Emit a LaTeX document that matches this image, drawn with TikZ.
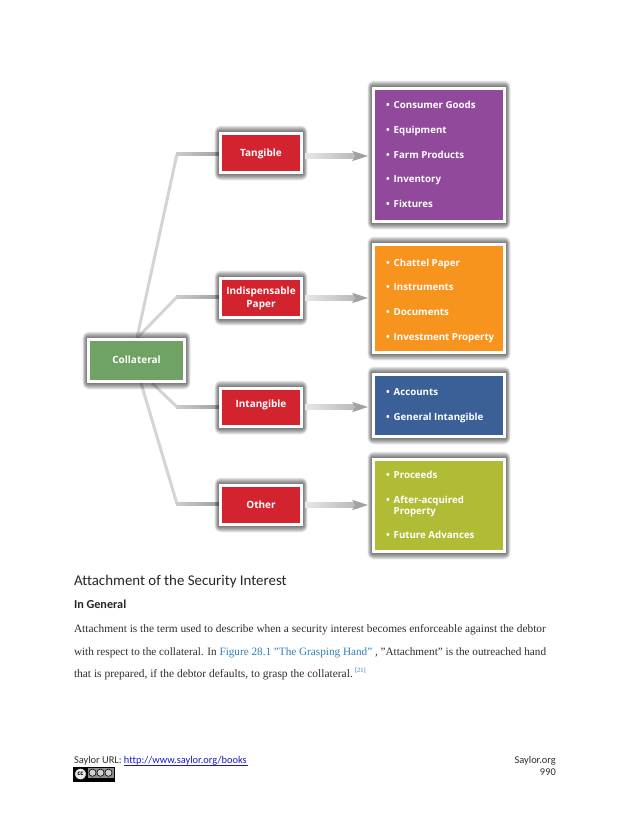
\documentclass[tikz,border=0pt]{standalone}
\usepackage{fontspec}
\setmainfont{Liberation Serif}
\newfontfamily\labfont{Open Sans}[BoldFont={Open Sans Bold}]
\newfontfamily\carl{Carlito}[Ligatures=NoCommon]
\usetikzlibrary{calc,arrows.meta}
\definecolor{redb}{HTML}{D2232E}
\definecolor{greenb}{HTML}{6FA264}
\definecolor{purpleb}{HTML}{91499C}
\definecolor{orangeb}{HTML}{F7941E}
\definecolor{blueb}{HTML}{3B6098}
\definecolor{oliveb}{HTML}{B0BC35}
\definecolor{linkblue}{HTML}{2F80B8}
\definecolor{urlblue}{HTML}{1A1ACC}
\definecolor{bodyink}{HTML}{2E2E2E}
\tikzset{
  x=1pt,y=-1pt,
  boxnode/.style={draw=white,line width=2.6pt,inner sep=0pt,outer sep=1.3pt,
    align=center,text=white,font=\labfont\bfseries\fontsize{10}{13}\selectfont},
  branch/.style={line width=3pt,draw=black!17,line join=miter},
  shaft/.style={line width=4.6pt,draw=black!27},
  tiphead/.style={fill=black!37,draw=none},
  txt/.style={anchor=base west,inner sep=0pt,outer sep=0pt,text=bodyink},
  itemtxt/.style={anchor=base west,inner sep=0pt,text=white,align=left,
    font=\labfont\bfseries\fontsize{9.7}{11}\selectfont},
}
\newcommand{\softshadow}[4]{%
  \foreach \s in {6.5,6,...,0.5}{
    \fill[black,opacity=0.05,rounded corners=\s pt]
      (#1-\s*0.7,#2-\s) rectangle (#3+\s*0.7,#4+\s);
  }}
\newcommand{\pbox}[7]{%
  \softshadow{#2}{#3}{#4}{#5}
  \node[boxnode,fill=#6,minimum width={#4-#2-2.6},minimum height={#5-#3-2.6}]
    (#1) at ({(#2+#4)/2},{(#3+#5)/2}) {#7};
}
\newcommand{\lbl}[2]{\raisebox{#1}[4pt][4pt]{#2}}
\newcommand{\litem}[3]{%
  \node[itemtxt,name=#3dot] at (386,#1) {•};
  \node[itemtxt,name=#3] at (393.5,#1) {#2};
}
\begin{document}
\begin{tikzpicture}
\useasboundingbox (0,0) rectangle (630,815);
\fill[white] (0,0) rectangle (630,815);

\coordinate (e1) at (177,154);
\coordinate (e2) at (177,297);
\coordinate (e3) at (177,407);
\coordinate (e4) at (177,504);
\coordinate (a1) at (0,156);
\coordinate (a2) at (0,298);
\coordinate (a3) at (0,407);
\coordinate (a4) at (0,505);
\coordinate (c1) at (137,338);
\coordinate (c2) at (137,338);
\coordinate (c3) at (152,383);
\coordinate (c4) at (141,383);

\draw[branch] (c1) -- (e1);
\draw[branch] (c2) -- (e2);
\draw[branch] (c3) -- (e3);
\draw[branch] (c4) -- (e4);
\foreach \elb in {e1,e2,e3,e4}{
  \shade[left color=black!20,right color=black!38]
    ($(\elb)+(-1,-1.5)$) rectangle ($(\elb)+(44,1.5)$);
}

\pbox{coll}{87}{338}{186}{383}{greenb}{\lbl{-3.4pt}{Collateral}}
\pbox{tang}{219}{132}{303}{174}{redb}{\lbl{-3.3pt}{Tangible}}
\pbox{indi}{219}{277}{303}{319}{redb}{Indispensable\\Paper}
\pbox{inta}{219}{387}{303}{428}{redb}{\lbl{-0.3pt}{Intangible}}
\pbox{othe}{219}{484}{303}{526}{redb}{\lbl{-3pt}{Other}}

\pbox{purp}{372}{87}{506}{223}{purpleb}{}
\pbox{oran}{372}{243}{506}{354}{orangeb}{}
\pbox{blue}{372}{373}{506}{438}{blueb}{}
\pbox{oliv}{372}{458}{506}{553}{oliveb}{}

\foreach \from/\to/\lev in {tang/purp/a1,indi/oran/a2,inta/blue/a3,othe/oliv/a4}{
  \draw[shaft] ($(\from.east |- \lev)+(4,0)$) -- ($(\to.west |- \lev)+(-12,0)$);
  \shade[left color=black!9,right color=black!27]
    ($(\from.east |- \lev)+(2,-2.3)$) rectangle ($(\to.west |- \lev)+(-18,2.3)$);
  \fill[tiphead] ($(\to.west |- \lev)+(-4,0)$) -- ++(-16,-5.2) -- ++(3.5,5.2) -- ++(-3.5,5.2) -- cycle;
}

\litem{108.5}{Consumer Goods}{iA}
\litem{133.5}{Equipment}{iB}
\litem{158}{Farm Products}{iC}
\litem{182.5}{Inventory}{iD}
\litem{207}{Fixtures}{iE}
\litem{266}{Chattel Paper}{iF}
\litem{290.5}{Instruments}{iG}
\litem{315}{Documents}{iH}
\litem{340.5}{Investment Property}{iI}
\litem{395.5}{Accounts}{iJ}
\litem{420}{General Intangible}{iK}
\litem{478.5}{Proceeds}{iL}
\litem{503}{After-acquired}{iM}
\node[itemtxt,name=iMb] at (393.5,514) {Property};
\litem{538.5}{Future Advances}{iN}

\node[txt,font=\carl\fontsize{14.9}{16}\selectfont,text=black!85] (h1) at (74,585) {Attachment of the Security Interest};
\node[txt,font=\carl\bfseries\fontsize{12.2}{13}\selectfont,text=black!85] (h2) at (74,608) {In General};
\node[txt,font=\fontsize{11.35}{13}\selectfont] (b1) at (74,632) {Attachment is the term used to describe when a security interest becomes enforceable against the debtor};
\node[txt,font=\fontsize{11.2}{13}\selectfont] (b2) at (74,655) {with respect to the collateral. In {\color{linkblue}Figure 28.1 "The Grasping Hand"} , "Attachment" is the outreached hand};
\node[txt,font=\fontsize{11.45}{13}\selectfont] (b3) at (74,677) {that is prepared, if the debtor defaults, to grasp the collateral.};
\node[txt,font=\fontsize{6.5}{7}\selectfont,text=linkblue] (fn) at (355,672) {[21]};

\node[txt,font=\carl\fontsize{10.4}{12}\selectfont] (f1) at (74,763) {Saylor URL: {\color{urlblue}http://www.saylor.org/books}};
\draw[urlblue,line width=0.6pt] (124,765) -- (248,765);
\node[font=\carl\fontsize{10.4}{12}\selectfont,anchor=base east,inner sep=0pt,text=bodyink] (f2) at (556,763) {Saylor.org};
\node[font=\carl\fontsize{10.4}{12}\selectfont,anchor=base east,inner sep=0pt,text=bodyink] (f3) at (556,775) {990};

\fill[black] (73,767) rectangle (115,782);
\fill[black!45] (88,768) rectangle (114,777.5);
\fill[black!8,draw=black,line width=0.7pt] (80.5,774) circle (5.8);
\node[inner sep=0pt,font=\labfont\bfseries\fontsize{6.2}{6}\selectfont] (cc) at (80.5,773.8) {cc};
\foreach \cx in {92.5,100.5,108.5}{
  \fill[black!18,draw=black,line width=0.6pt] (\cx,772.7) circle (3.6);
}
\end{tikzpicture}
\end{document}
